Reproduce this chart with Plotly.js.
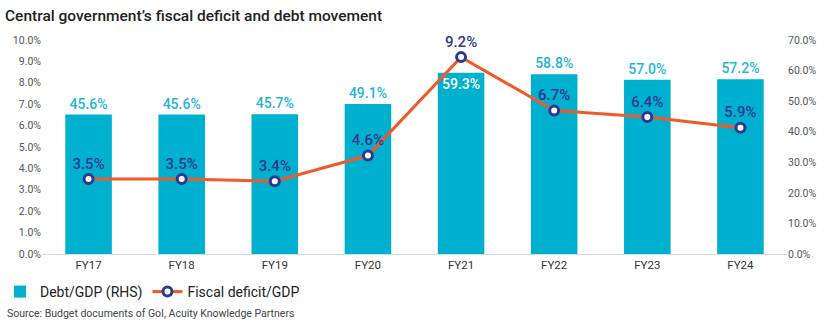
<!DOCTYPE html>
<html>
<head>
<meta charset="utf-8">
<script src="https://cdn.plot.ly/plotly-3.0.1.min.js"></script>
<style>html,body{margin:0;padding:0;background:#fff;}#chart{width:830px;height:323px;}</style>
</head>
<body>
<div id="chart"></div>
<script>
const categories = ['FY17','FY18','FY19','FY20','FY21','FY22','FY23','FY24'];
const debtGdp = [45.6, 45.6, 45.7, 49.1, 59.3, 58.8, 57.0, 57.2];
const fiscalDeficit = [3.5, 3.5, 3.4, 4.6, 9.2, 6.7, 6.4, 5.9];
const leftTicks = [0,1,2,3,4,5,6,7,8,9,10];
const rightTicks = [0,10,20,30,40,50,60,70];

const FONT = 'Roboto, "DejaVu Sans", sans-serif';
const barPos = debtGdp.map((v,i) => categories[i] === 'FY21' ? 'inside' : 'outside');
const barTextColor = debtGdp.map((v,i) => categories[i] === 'FY21' ? '#ffffff' : '#1fb5d6');

const traces = [
  {
    type: 'bar', name: 'Debt/GDP (RHS)', x: categories, y: debtGdp, yaxis: 'y',
    marker: {color: '#00b0cf'}, width: 0.5,
    text: debtGdp.map(v => v.toFixed(1) + '%'), textposition: barPos,
    insidetextanchor: 'end', constraintext: 'none', cliponaxis: false,
    textfont: {family: FONT, size: 14, color: barTextColor, weight: 500},
    hoverinfo: 'skip'
  },
  {
    type: 'scatter', mode: 'lines+markers+text', name: 'Fiscal deficit/GDP',
    x: categories, y: fiscalDeficit, yaxis: 'y2',
    line: {color: '#f05a28', width: 3},
    marker: {color: '#ffffff', size: 9, line: {color: '#2b3990', width: 3}},
    text: fiscalDeficit.map(v => v.toFixed(1) + '%'), textposition: 'top center',
    cliponaxis: false,
    textfont: {family: FONT, size: 15, color: '#2b3990', weight: 500},
    hoverinfo: 'skip'
  }
];

const layout = {
  width: 830, height: 323,
  margin: {l: 42, r: 43, t: 40, b: 69, autoexpand: false},
  paper_bgcolor: '#ffffff', plot_bgcolor: '#ffffff',
  font: {family: FONT, color: '#555555'},
  title: {
    text: 'Central government’s fiscal deficit and debt movement',
    x: 0.006, xanchor: 'left', xref: 'container',
    y: 0.953, yanchor: 'middle', yref: 'container',
    font: {family: FONT, size: 15.5, color: '#222222', weight: 500}
  },
  showlegend: true,
  legend: {
    orientation: 'h', xref: 'container', yref: 'container',
    x: -0.014, xanchor: 'left', y: 0.096, yanchor: 'middle',
    font: {family: FONT, size: 14, color: '#222222'},
    itemwidth: 30, traceorder: 'normal', tracegroupgap: 0
  },
  xaxis: {
    type: 'category', showgrid: false, zeroline: false, automargin: false,
    showline: true, linecolor: '#d9d9d9', linewidth: 1,
    tickfont: {family: FONT, size: 11.5, color: '#333333'}, ticks: '', ticklen: 0
  },
  yaxis: {
    side: 'right', range: [0, 70], tickvals: rightTicks, automargin: false,
    ticktext: rightTicks.map(v => v.toFixed(1) + '%'),
    showgrid: false, zeroline: false, showline: false, ticks: '',
    tickfont: {family: FONT, size: 10.5, color: '#555555'}
  },
  yaxis2: {
    overlaying: 'y', side: 'left', range: [0, 10], tickvals: leftTicks, automargin: false,
    ticktext: leftTicks.map(v => v.toFixed(1) + '%'),
    showgrid: false, zeroline: false, showline: false, ticks: '',
    tickfont: {family: FONT, size: 10.5, color: '#555555'}
  },
  annotations: [{
    text: 'Source: Budget documents of GoI, Acuity Knowledge Partners',
    xref: 'paper', yref: 'paper', x: -0.05, y: -0.276,
    xanchor: 'left', yanchor: 'middle', showarrow: false,
    font: {family: FONT, size: 10.5, color: '#444444'}
  }]
};

Plotly.newPlot('chart', traces, layout, {displayModeBar: false, staticPlot: true});
</script>
</body>
</html>
